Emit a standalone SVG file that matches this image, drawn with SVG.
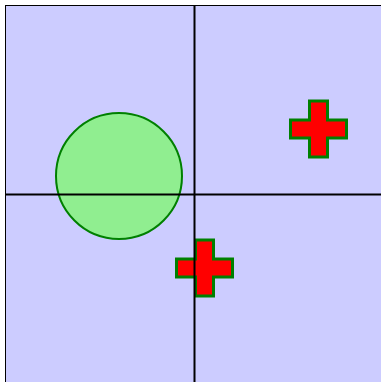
<svg xmlns="http://www.w3.org/2000/svg" width="381" height="382" viewBox="0 0 381 382">
<defs>
<style>
.bg{fill:#ccccff;stroke:#000;stroke-width:1}
.circ{fill:#90ee90;stroke:#008000;stroke-width:2}
.cross{fill:#ff0000;stroke:#008000;stroke-width:3}
.axis{stroke:#000;stroke-width:2;fill:none}
</style>
<path id="crossShape" d="M-9,-28 h18 v19 h19 v18 h-19 v19 h-18 v-19 h-19 v-18 h19 z"/>
</defs>
<rect class="bg" x="5.5" y="5.5" width="400" height="400"/>
<g id="circle"><circle class="circ" cx="119" cy="176" r="63"/></g>
<g id="cross1"><use href="#crossShape" class="cross" transform="translate(318.5,129)"/></g>
<g id="cross2"><use href="#crossShape" class="cross" transform="translate(204.5,268)"/></g>
<g id="connectors">
<line class="axis" x1="6" y1="194.5" x2="381" y2="194.5"/>
<line class="axis" x1="194.5" y1="6" x2="194.5" y2="382"/>
</g>
</svg>
